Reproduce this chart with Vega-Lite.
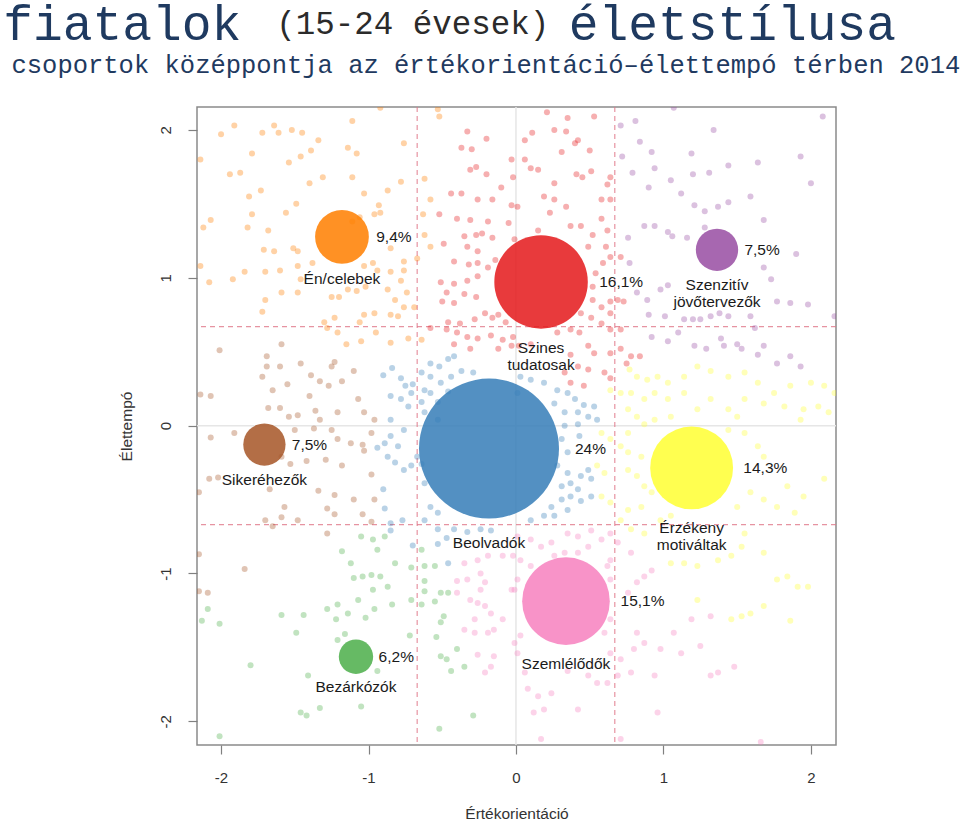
{
"$schema": "https://vega.github.io/schema/vega-lite/v6.json",
"background": "white",
"padding": {"left": 3, "top": 0, "right": 0, "bottom": 0},
"config": {"concat": {"spacing": 0}},
"title": {"text": "fiatalok\u00a0\u00a0\u00a0\u00a0\u00a0\u00a0\u00a0\u00a0\u00a0\u00a0\u00a0életstílusa", "subtitle": "\u200b\u00a0\u00a0\u00a0\u00a0\u00a0\u00a0\u00a0\u00a0\u00a0\u00a0\u00a0\u00a0\u00a0\u00a0(15-24 évesek)",
  "font": "Liberation Mono", "fontSize": 49.6, "fontWeight": "normal", "color": "#1f3a60",
  "subtitleFont": "Liberation Mono", "subtitleFontSize": 32.5, "subtitleColor": "#2b2b2b", "subtitlePadding": -43,
  "anchor": "start", "frame": "bounds", "dx": -7.5, "offset": 1.5},
"datasets": {
"grp": [
{"g":"en","x":-1.18,"y":1.277,"pct":9.4,"lbl":"9,4%","name":"Én/celebek"},
{"g":"szi","x":0.17,"y":0.972,"pct":16.1,"lbl":"16,1%","name":"Szines\ntudatosak"},
{"g":"sze","x":1.363,"y":1.189,"pct":7.5,"lbl":"7,5%","name":"Szenzitív\njövőtervezők"},
{"g":"sik","x":-1.706,"y":-0.128,"pct":7.5,"lbl":"7,5%","name":"Sikeréhezők"},
{"g":"beo","x":-0.183,"y":-0.155,"pct":24,"lbl":"24%","name":"Beolvadók"},
{"g":"erz","x":1.191,"y":-0.286,"pct":14.3,"lbl":"14,3%","name":"Érzékeny\nmotiváltak"},
{"g":"szm","x":0.339,"y":-1.187,"pct":15.1,"lbl":"15,1%","name":"Szemlélődők"},
{"g":"bez","x":-1.085,"y":-1.563,"pct":6.2,"lbl":"6,2%","name":"Bezárkózók"}
],
"pts": [
{"g":"en","x":-1.91,"y":2.03},{"g":"en","x":-2.00,"y":1.97},{"g":"en","x":-1.72,"y":1.98},{"g":"en","x":-1.64,"y":2.03},{"g":"en","x":-1.61,"y":1.98},{"g":"en","x":-1.52,"y":2.00},{"g":"en","x":-1.45,"y":1.98},{"g":"en","x":-1.34,"y":1.93},{"g":"en","x":-1.11,"y":2.06},{"g":"en","x":-1.14,"y":1.88},{"g":"en","x":-1.08,"y":1.84},{"g":"en","x":-1.39,"y":1.86},{"g":"en","x":-1.46,"y":1.82},{"g":"en","x":-1.54,"y":1.78},{"g":"en","x":-1.79,"y":1.84},{"g":"en","x":-2.14,"y":1.80},{"g":"en","x":-1.94,"y":1.70},{"g":"en","x":-1.87,"y":1.71},{"g":"en","x":-1.81,"y":1.55},{"g":"en","x":-1.73,"y":1.59},{"g":"en","x":-1.79,"y":1.43},{"g":"en","x":-1.68,"y":1.32},{"g":"en","x":-2.12,"y":1.34},{"g":"en","x":-2.07,"y":1.39},{"g":"en","x":-1.82,"y":1.34},{"g":"en","x":-1.56,"y":1.44},{"g":"en","x":-1.49,"y":1.50},{"g":"en","x":-1.40,"y":1.64},{"g":"en","x":-1.31,"y":1.68},{"g":"en","x":-1.11,"y":1.68},{"g":"en","x":-1.03,"y":1.57},{"g":"en","x":-0.87,"y":1.59},{"g":"en","x":-0.78,"y":1.65},{"g":"en","x":-0.76,"y":1.91},{"g":"en","x":-0.93,"y":1.49},{"g":"en","x":-0.92,"y":1.44},{"g":"en","x":-0.96,"y":1.43},{"g":"en","x":-1.06,"y":1.41},{"g":"en","x":-1.11,"y":1.38},{"g":"en","x":-1.64,"y":1.18},{"g":"en","x":-1.71,"y":1.19},{"g":"en","x":-1.51,"y":1.20},{"g":"en","x":-1.48,"y":1.18},{"g":"en","x":-1.38,"y":1.10},{"g":"en","x":-1.48,"y":1.08},{"g":"en","x":-1.60,"y":1.05},{"g":"en","x":-1.70,"y":1.04},{"g":"en","x":-1.84,"y":1.04},{"g":"en","x":-1.92,"y":0.99},{"g":"en","x":-2.08,"y":0.97},{"g":"en","x":-2.14,"y":1.08},{"g":"en","x":-1.03,"y":1.08},{"g":"en","x":-0.97,"y":1.10},{"g":"en","x":-0.94,"y":1.05},{"g":"en","x":-0.85,"y":1.04},{"g":"en","x":-0.78,"y":0.98},{"g":"en","x":-0.87,"y":0.92},{"g":"en","x":-0.76,"y":1.05},{"g":"en","x":-0.85,"y":1.20},{"g":"en","x":-0.76,"y":1.11},{"g":"en","x":-0.67,"y":1.13},{"g":"en","x":-1.48,"y":0.90},{"g":"en","x":-1.46,"y":0.99},{"g":"en","x":-1.70,"y":0.85},{"g":"en","x":-1.72,"y":0.77},{"g":"en","x":-1.59,"y":0.90},{"g":"en","x":-1.20,"y":0.87},{"g":"en","x":-1.25,"y":0.87},{"g":"en","x":-1.14,"y":0.92},{"g":"en","x":-1.08,"y":0.91},{"g":"en","x":-1.02,"y":0.94},{"g":"en","x":-0.82,"y":0.85},{"g":"en","x":-0.74,"y":0.90},{"g":"en","x":-0.69,"y":0.80},{"g":"en","x":-0.76,"y":0.80},{"g":"en","x":-0.85,"y":0.75},{"g":"en","x":-0.80,"y":0.74},{"g":"en","x":-0.96,"y":0.76},{"g":"en","x":-1.03,"y":0.75},{"g":"en","x":-1.06,"y":0.70},{"g":"en","x":-1.23,"y":0.73},{"g":"en","x":-1.30,"y":0.70},{"g":"en","x":-1.28,"y":0.66},{"g":"en","x":-1.21,"y":0.63},{"g":"en","x":-1.15,"y":0.55},{"g":"en","x":-1.05,"y":0.57},{"g":"en","x":-0.95,"y":0.63},{"g":"en","x":-0.85,"y":0.56},{"g":"en","x":-0.73,"y":0.59},{"g":"en","x":-0.64,"y":0.58},{"g":"en","x":-0.58,"y":1.21},{"g":"en","x":-0.62,"y":1.29},{"g":"en","x":-0.63,"y":1.43},{"g":"en","x":-0.58,"y":1.53},{"g":"en","x":-0.62,"y":1.67},{"g":"en","x":-0.53,"y":2.14},{"g":"en","x":-0.52,"y":2.09},{"g":"en","x":-0.92,"y":2.15},
{"g":"szi","x":-0.33,"y":1.99},{"g":"szi","x":-0.20,"y":1.94},{"g":"szi","x":-0.37,"y":1.88},{"g":"szi","x":-0.30,"y":1.87},{"g":"szi","x":-0.03,"y":1.80},{"g":"szi","x":-0.31,"y":1.73},{"g":"szi","x":-0.27,"y":1.75},{"g":"szi","x":-0.20,"y":1.70},{"g":"szi","x":-0.02,"y":1.68},{"g":"szi","x":-0.10,"y":1.61},{"g":"szi","x":-0.44,"y":1.57},{"g":"szi","x":-0.37,"y":1.57},{"g":"szi","x":-0.26,"y":1.53},{"g":"szi","x":-0.16,"y":1.53},{"g":"szi","x":-0.03,"y":1.49},{"g":"szi","x":-0.52,"y":1.43},{"g":"szi","x":-0.40,"y":1.40},{"g":"szi","x":-0.31,"y":1.39},{"g":"szi","x":-0.19,"y":1.38},{"g":"szi","x":-0.05,"y":1.37},{"g":"szi","x":-0.35,"y":1.28},{"g":"szi","x":-0.27,"y":1.29},{"g":"szi","x":-0.23,"y":1.30},{"g":"szi","x":-0.16,"y":1.27},{"g":"szi","x":-0.49,"y":1.23},{"g":"szi","x":-0.33,"y":1.21},{"g":"szi","x":-0.26,"y":1.18},{"g":"szi","x":-0.42,"y":1.11},{"g":"szi","x":-0.32,"y":1.09},{"g":"szi","x":-0.26,"y":1.10},{"g":"szi","x":-0.19,"y":1.07},{"g":"szi","x":-0.14,"y":1.12},{"g":"szi","x":-0.51,"y":0.97},{"g":"szi","x":-0.42,"y":0.96},{"g":"szi","x":-0.33,"y":0.98},{"g":"szi","x":-0.26,"y":1.01},{"g":"szi","x":-0.47,"y":0.90},{"g":"szi","x":-0.35,"y":0.89},{"g":"szi","x":-0.27,"y":0.87},{"g":"szi","x":-0.50,"y":0.84},{"g":"szi","x":-0.42,"y":0.83},{"g":"szi","x":-0.28,"y":0.72},{"g":"szi","x":-0.21,"y":0.76},{"g":"szi","x":-0.16,"y":0.73},{"g":"szi","x":-0.12,"y":0.75},{"g":"szi","x":-0.07,"y":0.70},{"g":"szi","x":-0.58,"y":0.66},{"g":"szi","x":-0.47,"y":0.65},{"g":"szi","x":-0.40,"y":0.63},{"g":"szi","x":-0.33,"y":0.60},{"g":"szi","x":-0.26,"y":0.59},{"g":"szi","x":-0.17,"y":0.61},{"g":"szi","x":-0.09,"y":0.58},{"g":"szi","x":-0.02,"y":0.60},{"g":"szi","x":-0.42,"y":0.55},{"g":"szi","x":-0.31,"y":0.52},{"g":"szi","x":-0.12,"y":0.52},{"g":"szi","x":-0.03,"y":0.54},{"g":"szi","x":-0.38,"y":0.69},{"g":"szi","x":-0.46,"y":0.70},
{"g":"szi","x":0.21,"y":2.12},{"g":"szi","x":0.35,"y":2.08},{"g":"szi","x":0.06,"y":1.93},{"g":"szi","x":0.11,"y":1.98},{"g":"szi","x":0.26,"y":2.00},{"g":"szi","x":0.34,"y":1.99},{"g":"szi","x":0.42,"y":1.93},{"g":"szi","x":0.40,"y":1.91},{"g":"szi","x":0.31,"y":1.85},{"g":"szi","x":0.50,"y":1.86},{"g":"szi","x":0.53,"y":2.09},{"g":"szi","x":0.06,"y":1.80},{"g":"szi","x":0.10,"y":1.74},{"g":"szi","x":0.15,"y":1.73},{"g":"szi","x":0.26,"y":1.64},{"g":"szi","x":0.41,"y":1.70},{"g":"szi","x":0.45,"y":1.68},{"g":"szi","x":0.51,"y":1.72},{"g":"szi","x":0.64,"y":1.68},{"g":"szi","x":0.62,"y":1.63},{"g":"szi","x":0.19,"y":1.55},{"g":"szi","x":0.26,"y":1.53},{"g":"szi","x":0.23,"y":1.44},{"g":"szi","x":0.34,"y":1.48},{"g":"szi","x":0.58,"y":1.53},{"g":"szi","x":0.64,"y":1.53},{"g":"szi","x":0.15,"y":1.32},{"g":"szi","x":0.37,"y":1.35},{"g":"szi","x":0.44,"y":1.35},{"g":"szi","x":0.58,"y":1.40},{"g":"szi","x":0.62,"y":1.32},{"g":"szi","x":0.52,"y":1.29},{"g":"szi","x":0.61,"y":1.21},{"g":"szi","x":0.49,"y":1.21},{"g":"szi","x":0.64,"y":1.14},{"g":"szi","x":0.59,"y":1.10},{"g":"szi","x":0.71,"y":1.14},{"g":"szi","x":0.54,"y":1.03},{"g":"szi","x":0.52,"y":0.94},{"g":"szi","x":0.52,"y":0.85},{"g":"szi","x":0.58,"y":0.80},{"g":"szi","x":0.64,"y":0.84},{"g":"szi","x":0.69,"y":0.85},{"g":"szi","x":0.73,"y":0.84},{"g":"szi","x":0.44,"y":0.76},{"g":"szi","x":0.51,"y":0.73},{"g":"szi","x":0.58,"y":0.69},{"g":"szi","x":0.64,"y":0.65},{"g":"szi","x":0.71,"y":0.65},{"g":"szi","x":0.28,"y":0.63},{"g":"szi","x":0.37,"y":0.65},{"g":"szi","x":0.43,"y":0.63},{"g":"szi","x":0.49,"y":0.54},{"g":"szi","x":0.53,"y":0.49},{"g":"szi","x":0.64,"y":0.49},{"g":"szi","x":0.37,"y":0.48},{"g":"szi","x":0.42,"y":0.40},{"g":"szi","x":0.33,"y":0.36},{"g":"szi","x":0.49,"y":0.38},{"g":"szi","x":0.60,"y":0.36},{"g":"szi","x":0.64,"y":0.32},{"g":"szi","x":0.37,"y":0.29},{"g":"szi","x":0.46,"y":0.27},{"g":"szi","x":0.02,"y":0.54},{"g":"szi","x":0.10,"y":0.55},{"g":"szi","x":0.71,"y":0.52},{"g":"szi","x":0.78,"y":0.47},{"g":"szi","x":0.84,"y":0.47},{"g":"szi","x":0.75,"y":0.42},{"g":"szi","x":0.64,"y":0.76},{"g":"szi","x":0.01,"y":1.48},{"g":"szi","x":-0.01,"y":1.26},
{"g":"sze","x":0.81,"y":2.06},{"g":"sze","x":0.71,"y":2.03},{"g":"sze","x":1.34,"y":2.00},{"g":"sze","x":0.84,"y":1.92},{"g":"sze","x":0.92,"y":1.85},{"g":"sze","x":0.72,"y":1.82},{"g":"sze","x":1.19,"y":1.84},{"g":"sze","x":1.31,"y":1.71},{"g":"sze","x":1.20,"y":1.70},{"g":"sze","x":1.05,"y":1.66},{"g":"sze","x":0.90,"y":1.61},{"g":"sze","x":0.94,"y":1.74},{"g":"sze","x":0.79,"y":1.71},{"g":"sze","x":1.44,"y":1.76},{"g":"sze","x":1.64,"y":1.78},{"g":"sze","x":1.93,"y":1.82},{"g":"sze","x":2.08,"y":2.09},{"g":"sze","x":2.00,"y":1.64},{"g":"sze","x":1.07,"y":2.15},{"g":"sze","x":1.59,"y":1.55},{"g":"sze","x":1.44,"y":1.51},{"g":"sze","x":1.37,"y":1.48},{"g":"sze","x":1.28,"y":1.45},{"g":"sze","x":1.21,"y":1.49},{"g":"sze","x":1.12,"y":1.57},{"g":"sze","x":0.87,"y":1.35},{"g":"sze","x":0.94,"y":1.35},{"g":"sze","x":1.03,"y":1.31},{"g":"sze","x":1.06,"y":1.28},{"g":"sze","x":1.16,"y":1.27},{"g":"sze","x":1.28,"y":1.34},{"g":"sze","x":0.76,"y":1.27},{"g":"sze","x":1.68,"y":1.39},{"g":"sze","x":1.90,"y":1.16},{"g":"sze","x":1.68,"y":1.07},{"g":"sze","x":1.73,"y":0.99},{"g":"sze","x":1.03,"y":0.95},{"g":"sze","x":0.98,"y":0.92},{"g":"sze","x":0.89,"y":0.85},{"g":"sze","x":0.82,"y":0.90},{"g":"sze","x":0.77,"y":1.10},{"g":"sze","x":0.90,"y":0.75},{"g":"sze","x":1.01,"y":0.74},{"g":"sze","x":1.14,"y":0.72},{"g":"sze","x":1.20,"y":0.72},{"g":"sze","x":1.25,"y":0.72},{"g":"sze","x":1.32,"y":0.74},{"g":"sze","x":1.38,"y":0.76},{"g":"sze","x":1.44,"y":0.74},{"g":"sze","x":1.59,"y":0.74},{"g":"sze","x":1.77,"y":0.84},{"g":"sze","x":1.86,"y":0.83},{"g":"sze","x":1.98,"y":0.82},{"g":"sze","x":2.16,"y":0.74},{"g":"sze","x":1.62,"y":0.66},{"g":"sze","x":1.10,"y":0.63},{"g":"sze","x":0.92,"y":0.60},{"g":"sze","x":1.03,"y":0.57},{"g":"sze","x":1.39,"y":0.59},{"g":"sze","x":1.53,"y":0.52},{"g":"sze","x":1.64,"y":0.48},{"g":"sze","x":1.68,"y":0.54},{"g":"sze","x":1.77,"y":0.42},{"g":"sze","x":1.86,"y":0.47},{"g":"sze","x":1.93,"y":0.40},{"g":"sze","x":1.21,"y":0.54},{"g":"sze","x":1.29,"y":0.52},{"g":"sze","x":1.41,"y":0.54},{"g":"sze","x":1.50,"y":0.55},
{"g":"sik","x":-2.01,"y":0.51},{"g":"sik","x":-1.69,"y":0.47},{"g":"sik","x":-1.59,"y":0.55},{"g":"sik","x":-1.69,"y":0.40},{"g":"sik","x":-1.72,"y":0.33},{"g":"sik","x":-1.60,"y":0.40},{"g":"sik","x":-1.55,"y":0.28},{"g":"sik","x":-1.65,"y":0.24},{"g":"sik","x":-1.46,"y":0.42},{"g":"sik","x":-1.33,"y":0.30},{"g":"sik","x":-1.25,"y":0.40},{"g":"sik","x":-1.23,"y":0.43},{"g":"sik","x":-1.39,"y":0.34},{"g":"sik","x":-1.27,"y":0.27},{"g":"sik","x":-1.18,"y":0.30},{"g":"sik","x":-1.10,"y":0.37},{"g":"sik","x":-2.14,"y":0.21},{"g":"sik","x":-2.07,"y":0.20},{"g":"sik","x":-1.68,"y":0.12},{"g":"sik","x":-1.60,"y":0.12},{"g":"sik","x":-1.54,"y":0.06},{"g":"sik","x":-1.48,"y":0.07},{"g":"sik","x":-1.36,"y":0.10},{"g":"sik","x":-1.40,"y":0.20},{"g":"sik","x":-1.33,"y":0.04},{"g":"sik","x":-1.21,"y":0.09},{"g":"sik","x":-1.07,"y":0.18},{"g":"sik","x":-1.03,"y":0.09},{"g":"sik","x":-0.96,"y":0.04},{"g":"sik","x":-2.07,"y":-0.08},{"g":"sik","x":-1.91,"y":-0.05},{"g":"sik","x":-1.50,"y":-0.03},{"g":"sik","x":-1.37,"y":-0.02},{"g":"sik","x":-1.25,"y":-0.03},{"g":"sik","x":-1.21,"y":-0.09},{"g":"sik","x":-1.12,"y":-0.12},{"g":"sik","x":-1.04,"y":-0.13},{"g":"sik","x":-0.98,"y":-0.05},{"g":"sik","x":-1.59,"y":-0.21},{"g":"sik","x":-1.53,"y":-0.26},{"g":"sik","x":-1.42,"y":-0.24},{"g":"sik","x":-1.29,"y":-0.23},{"g":"sik","x":-1.18,"y":-0.27},{"g":"sik","x":-1.03,"y":-0.17},{"g":"sik","x":-0.98,"y":-0.33},{"g":"sik","x":-1.67,"y":-0.43},{"g":"sik","x":-1.34,"y":-0.44},{"g":"sik","x":-1.23,"y":-0.47},{"g":"sik","x":-1.28,"y":-0.56},{"g":"sik","x":-1.23,"y":-0.60},{"g":"sik","x":-1.57,"y":-0.55},{"g":"sik","x":-1.48,"y":-0.64},{"g":"sik","x":-1.65,"y":-0.68},{"g":"sik","x":-1.70,"y":-0.64},{"g":"sik","x":-1.59,"y":-0.62},{"g":"sik","x":-1.10,"y":-0.50},{"g":"sik","x":-0.96,"y":-0.50},{"g":"sik","x":-1.04,"y":-0.60},{"g":"sik","x":-0.98,"y":-0.65},{"g":"sik","x":-1.28,"y":-0.73},{"g":"sik","x":-2.15,"y":-0.45},{"g":"sik","x":-2.08,"y":-0.36},{"g":"sik","x":-2.15,"y":-0.87},{"g":"sik","x":-2.15,"y":-1.12},{"g":"sik","x":-2.09,"y":-1.13},{"g":"sik","x":-1.84,"y":-0.97},{"g":"sik","x":-2.02,"y":-0.35},
{"g":"bez","x":-1.18,"y":-0.85},{"g":"bez","x":-1.12,"y":-0.93},{"g":"bez","x":-1.05,"y":-0.75},{"g":"bez","x":-0.97,"y":-0.77},{"g":"bez","x":-0.94,"y":-0.84},{"g":"bez","x":-0.89,"y":-0.75},{"g":"bez","x":-0.82,"y":-0.93},{"g":"bez","x":-0.71,"y":-0.96},{"g":"bez","x":-0.64,"y":-0.84},{"g":"bez","x":-0.62,"y":-0.95},{"g":"bez","x":-0.55,"y":-0.95},{"g":"bez","x":-1.10,"y":-1.03},{"g":"bez","x":-1.04,"y":-1.02},{"g":"bez","x":-0.98,"y":-1.01},{"g":"bez","x":-0.92,"y":-1.02},{"g":"bez","x":-0.87,"y":-1.09},{"g":"bez","x":-0.97,"y":-1.11},{"g":"bez","x":-1.07,"y":-1.18},{"g":"bez","x":-1.21,"y":-1.21},{"g":"bez","x":-1.28,"y":-1.24},{"g":"bez","x":-1.22,"y":-1.31},{"g":"bez","x":-1.14,"y":-1.27},{"g":"bez","x":-1.02,"y":-1.30},{"g":"bez","x":-0.96,"y":-1.24},{"g":"bez","x":-0.84,"y":-1.21},{"g":"bez","x":-0.71,"y":-1.18},{"g":"bez","x":-0.62,"y":-1.05},{"g":"bez","x":-0.62,"y":-1.12},{"g":"bez","x":-0.64,"y":-1.21},{"g":"bez","x":-0.51,"y":-1.13},{"g":"bez","x":-0.46,"y":-1.13},{"g":"bez","x":-0.55,"y":-1.19},{"g":"bez","x":-0.49,"y":-1.29},{"g":"bez","x":-0.51,"y":-1.33},{"g":"bez","x":-0.54,"y":-1.43},{"g":"bez","x":-0.72,"y":-1.42},{"g":"bez","x":-1.21,"y":-1.45},{"g":"bez","x":-1.16,"y":-1.41},{"g":"bez","x":-1.44,"y":-1.28},{"g":"bez","x":-1.59,"y":-1.28},{"g":"bez","x":-1.49,"y":-1.40},{"g":"bez","x":-1.80,"y":-1.62},{"g":"bez","x":-1.41,"y":-1.69},{"g":"bez","x":-1.46,"y":-1.94},{"g":"bez","x":-1.42,"y":-1.96},{"g":"bez","x":-1.33,"y":-1.91},{"g":"bez","x":-1.05,"y":-1.90},{"g":"bez","x":-2.01,"y":-2.10},{"g":"bez","x":-2.09,"y":-1.24},{"g":"bez","x":-2.13,"y":-1.32},{"g":"bez","x":-2.01,"y":-1.34},{"g":"bez","x":-0.94,"y":-1.66},{"g":"bez","x":-0.51,"y":-1.56},{"g":"bez","x":-0.47,"y":-1.58},{"g":"bez","x":-0.44,"y":-1.66},{"g":"bez","x":-0.40,"y":-1.51},{"g":"bez","x":-0.35,"y":-1.63},{"g":"bez","x":-0.29,"y":-1.96},{"g":"bez","x":-0.52,"y":-2.05},
{"g":"beo","x":-0.90,"y":0.34},{"g":"beo","x":-0.84,"y":0.39},{"g":"beo","x":-0.78,"y":0.32},{"g":"beo","x":-0.75,"y":0.27},{"g":"beo","x":-0.70,"y":0.28},{"g":"beo","x":-0.64,"y":0.36},{"g":"beo","x":-0.58,"y":0.42},{"g":"beo","x":-0.52,"y":0.40},{"g":"beo","x":-0.46,"y":0.45},{"g":"beo","x":-0.42,"y":0.47},{"g":"beo","x":-0.58,"y":0.33},{"g":"beo","x":-0.51,"y":0.29},{"g":"beo","x":-0.44,"y":0.33},{"g":"beo","x":-0.37,"y":0.37},{"g":"beo","x":-0.29,"y":0.36},{"g":"beo","x":-0.85,"y":0.20},{"g":"beo","x":-0.78,"y":0.18},{"g":"beo","x":-0.71,"y":0.22},{"g":"beo","x":-0.62,"y":0.24},{"g":"beo","x":-0.58,"y":0.22},{"g":"beo","x":-0.53,"y":0.16},{"g":"beo","x":-0.46,"y":0.23},{"g":"beo","x":-0.64,"y":0.16},{"g":"beo","x":-0.73,"y":0.13},{"g":"beo","x":-0.62,"y":0.09},{"g":"beo","x":-0.53,"y":0.04},{"g":"beo","x":-0.85,"y":0.04},{"g":"beo","x":0.03,"y":0.33},{"g":"beo","x":0.10,"y":0.31},{"g":"beo","x":0.19,"y":0.29},{"g":"beo","x":0.28,"y":0.24},{"g":"beo","x":0.35,"y":0.22},{"g":"beo","x":0.40,"y":0.18},{"g":"beo","x":0.46,"y":0.14},{"g":"beo","x":0.53,"y":0.13},{"g":"beo","x":0.26,"y":0.15},{"g":"beo","x":0.33,"y":0.09},{"g":"beo","x":0.42,"y":0.09},{"g":"beo","x":0.49,"y":0.06},{"g":"beo","x":0.55,"y":0.04},{"g":"beo","x":0.01,"y":0.22},{"g":"beo","x":-0.94,"y":-0.15},{"g":"beo","x":-0.89,"y":-0.12},{"g":"beo","x":-0.85,"y":-0.07},{"g":"beo","x":-0.80,"y":-0.14},{"g":"beo","x":-0.76,"y":-0.03},{"g":"beo","x":-0.87,"y":-0.21},{"g":"beo","x":-0.82,"y":-0.25},{"g":"beo","x":-0.76,"y":-0.30},{"g":"beo","x":-0.71,"y":-0.27},{"g":"beo","x":-0.64,"y":-0.26},{"g":"beo","x":-0.62,"y":-0.39},{"g":"beo","x":-0.67,"y":-0.21},{"g":"beo","x":-0.90,"y":-0.43},{"g":"beo","x":-0.89,"y":-0.56},{"g":"beo","x":-0.85,"y":-0.66},{"g":"beo","x":-0.77,"y":-0.64},{"g":"beo","x":-0.85,"y":-0.71},{"g":"beo","x":-0.70,"y":-0.81},{"g":"beo","x":-0.62,"y":-0.64},{"g":"beo","x":-0.53,"y":-0.70},{"g":"beo","x":-0.47,"y":-0.76},{"g":"beo","x":-0.46,"y":-0.93},{"g":"beo","x":-0.58,"y":-0.55},{"g":"beo","x":-0.53,"y":-0.59},{"g":"beo","x":-0.53,"y":-0.80},{"g":"beo","x":-0.42,"y":-0.70},{"g":"beo","x":-0.33,"y":-0.72},{"g":"beo","x":-0.24,"y":-0.70},{"g":"beo","x":-0.17,"y":-0.71},{"g":"beo","x":0.33,"y":0.00},{"g":"beo","x":0.42,"y":0.01},{"g":"beo","x":0.31,"y":-0.09},{"g":"beo","x":0.35,"y":-0.18},{"g":"beo","x":0.28,"y":-0.27},{"g":"beo","x":0.35,"y":-0.32},{"g":"beo","x":0.44,"y":-0.34},{"g":"beo","x":0.49,"y":-0.30},{"g":"beo","x":0.31,"y":-0.41},{"g":"beo","x":0.37,"y":-0.39},{"g":"beo","x":0.42,"y":-0.43},{"g":"beo","x":0.51,"y":-0.36},{"g":"beo","x":0.31,"y":-0.50},{"g":"beo","x":0.24,"y":-0.55},{"g":"beo","x":0.19,"y":-0.61},{"g":"beo","x":0.10,"y":-0.64},{"g":"beo","x":0.26,"y":-0.61},{"g":"beo","x":0.35,"y":-0.57},{"g":"beo","x":0.44,"y":-0.51},{"g":"beo","x":0.51,"y":-0.48},{"g":"beo","x":0.37,"y":-0.48},{"g":"beo","x":0.43,"y":-0.07},
{"g":"erz","x":0.77,"y":0.38},{"g":"erz","x":0.82,"y":0.33},{"g":"erz","x":0.89,"y":0.31},{"g":"erz","x":0.96,"y":0.33},{"g":"erz","x":1.03,"y":0.29},{"g":"erz","x":1.14,"y":0.33},{"g":"erz","x":1.23,"y":0.40},{"g":"erz","x":1.32,"y":0.37},{"g":"erz","x":1.44,"y":0.33},{"g":"erz","x":1.55,"y":0.36},{"g":"erz","x":1.64,"y":0.29},{"g":"erz","x":1.75,"y":0.22},{"g":"erz","x":1.86,"y":0.27},{"g":"erz","x":2.00,"y":0.29},{"g":"erz","x":2.09,"y":0.27},{"g":"erz","x":2.16,"y":0.22},{"g":"erz","x":0.71,"y":0.22},{"g":"erz","x":0.64,"y":0.24},{"g":"erz","x":0.78,"y":0.22},{"g":"erz","x":0.87,"y":0.18},{"g":"erz","x":0.94,"y":0.22},{"g":"erz","x":1.03,"y":0.18},{"g":"erz","x":1.14,"y":0.22},{"g":"erz","x":1.23,"y":0.11},{"g":"erz","x":1.32,"y":0.18},{"g":"erz","x":1.44,"y":0.11},{"g":"erz","x":1.55,"y":0.18},{"g":"erz","x":1.68,"y":0.15},{"g":"erz","x":1.82,"y":0.13},{"g":"erz","x":1.95,"y":0.11},{"g":"erz","x":2.05,"y":0.13},{"g":"erz","x":0.76,"y":0.11},{"g":"erz","x":0.82,"y":0.06},{"g":"erz","x":0.94,"y":0.04},{"g":"erz","x":1.05,"y":0.06},{"g":"erz","x":1.50,"y":0.06},{"g":"erz","x":1.93,"y":0.04},{"g":"erz","x":2.12,"y":0.09},{"g":"erz","x":0.58,"y":-0.05},{"g":"erz","x":0.64,"y":-0.09},{"g":"erz","x":0.76,"y":-0.05},{"g":"erz","x":0.87,"y":0.01},{"g":"erz","x":0.71,"y":-0.14},{"g":"erz","x":0.76,"y":-0.18},{"g":"erz","x":0.85,"y":-0.21},{"g":"erz","x":0.55,"y":-0.27},{"g":"erz","x":0.60,"y":-0.32},{"g":"erz","x":0.76,"y":-0.30},{"g":"erz","x":0.82,"y":-0.34},{"g":"erz","x":0.87,"y":-0.41},{"g":"erz","x":0.92,"y":-0.45},{"g":"erz","x":0.58,"y":-0.48},{"g":"erz","x":0.64,"y":-0.52},{"g":"erz","x":0.76,"y":-0.57},{"g":"erz","x":0.85,"y":-0.55},{"g":"erz","x":0.71,"y":-0.64},{"g":"erz","x":0.78,"y":-0.70},{"g":"erz","x":0.87,"y":-0.73},{"g":"erz","x":0.98,"y":-0.64},{"g":"erz","x":1.05,"y":-0.61},{"g":"erz","x":1.44,"y":-0.03},{"g":"erz","x":1.55,"y":-0.05},{"g":"erz","x":1.64,"y":-0.14},{"g":"erz","x":1.68,"y":-0.21},{"g":"erz","x":1.59,"y":-0.45},{"g":"erz","x":1.68,"y":-0.50},{"g":"erz","x":1.77,"y":-0.55},{"g":"erz","x":1.89,"y":-0.59},{"g":"erz","x":1.95,"y":-0.48},{"g":"erz","x":2.09,"y":-0.36},{"g":"erz","x":1.84,"y":-0.41},{"g":"erz","x":1.50,"y":-0.55},{"g":"erz","x":1.55,"y":-0.73},{"g":"erz","x":1.53,"y":-0.82},{"g":"erz","x":1.68,"y":-0.86},{"g":"erz","x":1.37,"y":-0.91},{"g":"erz","x":1.46,"y":-0.88},{"g":"erz","x":1.23,"y":-0.95},{"g":"erz","x":1.14,"y":-0.93},{"g":"erz","x":1.05,"y":-0.93},{"g":"erz","x":1.77,"y":-1.04},{"g":"erz","x":1.84,"y":-1.02},{"g":"erz","x":1.91,"y":-1.09},{"g":"erz","x":1.98,"y":-1.09},{"g":"erz","x":1.68,"y":-1.22},{"g":"erz","x":1.59,"y":-1.27},{"g":"erz","x":1.53,"y":-1.29},{"g":"erz","x":1.46,"y":-1.31},{"g":"erz","x":1.86,"y":-1.32},{"g":"erz","x":1.23,"y":-1.18},
{"g":"szm","x":-0.35,"y":-0.93},{"g":"szm","x":-0.26,"y":-0.91},{"g":"szm","x":-0.19,"y":-0.88},{"g":"szm","x":-0.09,"y":-0.88},{"g":"szm","x":-0.02,"y":-0.88},{"g":"szm","x":-0.40,"y":-1.05},{"g":"szm","x":-0.33,"y":-1.04},{"g":"szm","x":-0.24,"y":-1.00},{"g":"szm","x":-0.21,"y":-1.06},{"g":"szm","x":-0.24,"y":-1.11},{"g":"szm","x":-0.31,"y":-1.18},{"g":"szm","x":-0.26,"y":-1.20},{"g":"szm","x":-0.21,"y":-1.22},{"g":"szm","x":-0.17,"y":-1.27},{"g":"szm","x":-0.28,"y":-1.31},{"g":"szm","x":-0.35,"y":-1.38},{"g":"szm","x":-0.28,"y":-1.40},{"g":"szm","x":-0.19,"y":-1.40},{"g":"szm","x":-0.09,"y":-1.31},{"g":"szm","x":-0.15,"y":-1.38},{"g":"szm","x":-0.03,"y":-1.11},{"g":"szm","x":-0.40,"y":-1.13},{"g":"szm","x":-0.01,"y":-1.47},{"g":"szm","x":-0.15,"y":-1.56},{"g":"szm","x":-0.17,"y":-1.63},{"g":"szm","x":-0.21,"y":-1.67},{"g":"szm","x":-0.26,"y":-1.55},{"g":"szm","x":0.01,"y":-0.75},{"g":"szm","x":0.10,"y":-0.77},{"g":"szm","x":0.17,"y":-0.82},{"g":"szm","x":0.24,"y":-0.79},{"g":"szm","x":0.35,"y":-0.73},{"g":"szm","x":0.42,"y":-0.75},{"g":"szm","x":0.51,"y":-0.71},{"g":"szm","x":0.58,"y":-0.77},{"g":"szm","x":0.64,"y":-0.73},{"g":"szm","x":0.69,"y":-0.79},{"g":"szm","x":0.49,"y":-0.82},{"g":"szm","x":0.42,"y":-0.86},{"g":"szm","x":0.33,"y":-0.86},{"g":"szm","x":0.26,"y":-0.88},{"g":"szm","x":0.03,"y":-0.91},{"g":"szm","x":0.10,"y":-0.95},{"g":"szm","x":0.01,"y":-1.04},{"g":"szm","x":-0.01,"y":-1.11},{"g":"szm","x":0.64,"y":-0.91},{"g":"szm","x":0.62,"y":-0.95},{"g":"szm","x":0.64,"y":-1.04},{"g":"szm","x":0.78,"y":-0.86},{"g":"szm","x":0.82,"y":-1.06},{"g":"szm","x":0.87,"y":-1.02},{"g":"szm","x":0.92,"y":-0.98},{"g":"szm","x":0.76,"y":-1.13},{"g":"szm","x":0.64,"y":-1.31},{"g":"szm","x":0.60,"y":-1.40},{"g":"szm","x":0.64,"y":-1.54},{"g":"szm","x":0.71,"y":-1.58},{"g":"szm","x":0.82,"y":-1.40},{"g":"szm","x":0.80,"y":-1.51},{"g":"szm","x":0.87,"y":-1.47},{"g":"szm","x":0.98,"y":-1.51},{"g":"szm","x":1.07,"y":-1.40},{"g":"szm","x":1.12,"y":-1.54},{"g":"szm","x":1.19,"y":-1.31},{"g":"szm","x":1.25,"y":-1.49},{"g":"szm","x":1.32,"y":-1.29},{"g":"szm","x":1.37,"y":-1.67},{"g":"szm","x":1.32,"y":-1.69},{"g":"szm","x":1.48,"y":-1.63},{"g":"szm","x":0.94,"y":-1.69},{"g":"szm","x":0.96,"y":-1.94},{"g":"szm","x":0.78,"y":-1.67},{"g":"szm","x":0.62,"y":-1.74},{"g":"szm","x":0.69,"y":-1.69},{"g":"szm","x":0.06,"y":-1.67},{"g":"szm","x":0.08,"y":-1.78},{"g":"szm","x":0.15,"y":-1.83},{"g":"szm","x":0.19,"y":-1.92},{"g":"szm","x":0.12,"y":-1.94},{"g":"szm","x":0.24,"y":-1.81},{"g":"szm","x":0.42,"y":-1.92},{"g":"szm","x":0.35,"y":-1.66},{"g":"szm","x":0.49,"y":-1.69},{"g":"szm","x":0.55,"y":-1.74},{"g":"szm","x":0.17,"y":-2.12},{"g":"szm","x":0.71,"y":-2.12},{"g":"szm","x":1.66,"y":-2.14},{"g":"szm","x":0.01,"y":-1.54},{"g":"szm","x":0.03,"y":-1.42}
],
"thr": [{"t": -0.67}, {"t": 0.67}],
"zero": [{"t": 0}]
},
"vconcat": [
{
"width": 639,
"height": 638,
"view": {"stroke": "#8a8a8a", "strokeWidth": 1.5},
"title": {"text": "csoportok középpontja az értékorientáció–élettempó térben 2014", "font": "Liberation Mono", "fontSize": 25.5, "fontWeight": "normal", "color": "#1f3a60", "anchor": "start", "frame": "group", "dx": -185.5, "offset": 27.5},
"layer": [
{"data": {"name": "zero"}, "mark": {"type": "rule", "color": "#e6e6e6", "strokeWidth": 1.5},
 "encoding": {"x": {"field": "t", "type": "quantitative", "scale": {"domain": [-2.163, 2.17], "nice": false, "zero": false},
   "axis": {"values": [-2, -1, 0, 1, 2], "labelExpr": "'' + datum.value", "grid": false, "domain": false, "tickSize": 9, "tickColor": "#808080", "tickWidth": 1.2, "labelFont": "Liberation Sans", "labelFontSize": 15, "labelColor": "#333333", "labelPadding": 16, "title": "Értékorientáció", "titleFont": "Liberation Sans", "titleFontSize": 15.5, "titleFontWeight": "normal", "titleColor": "#333333", "titlePadding": 21}}}},
{"data": {"name": "zero"}, "mark": {"type": "rule", "color": "#e6e6e6", "strokeWidth": 1.5},
 "encoding": {"y": {"field": "t", "type": "quantitative", "scale": {"domain": [-2.16, 2.155], "nice": false, "zero": false},
   "axis": {"values": [-2, -1, 0, 1, 2], "labelExpr": "'' + datum.value", "grid": false, "domain": false, "tickSize": 9, "tickColor": "#808080", "tickWidth": 1.2, "labelFont": "Liberation Sans", "labelFontSize": 15, "labelColor": "#333333", "labelAngle": -90, "labelAlign": "center", "labelBaseline": "bottom", "labelPadding": 15, "title": "Élettempó", "titleFont": "Liberation Sans", "titleFontSize": 15.5, "titleFontWeight": "normal", "titleColor": "#333333", "titlePadding": 24}}}},
{"data": {"name": "thr"}, "mark": {"type": "rule", "color": "#e0788a", "opacity": 0.8, "strokeWidth": 1.2, "strokeDash": [5, 4]},
 "encoding": {"x": {"field": "t", "type": "quantitative"}}},
{"data": {"name": "thr"}, "mark": {"type": "rule", "color": "#e0788a", "opacity": 0.8, "strokeWidth": 1.2, "strokeDash": [5, 4]},
 "encoding": {"y": {"field": "t", "type": "quantitative"}}},
{"data": {"name": "pts"}, "mark": {"type": "circle", "size": 36, "opacity": 0.35, "clip": true},
 "encoding": {
   "x": {"field": "x", "type": "quantitative"},
   "y": {"field": "y", "type": "quantitative"},
   "color": {"field": "g", "type": "nominal", "legend": null,
     "scale": {"domain": ["en","szi","sze","sik","beo","erz","szm","bez"], "range": ["#FF7F00","#E41A1C","#984EA3","#A65628","#377EB8","#FFFF33","#F781BF","#4DAF4A"]}}}},
{"data": {"name": "grp"}, "mark": {"type": "circle", "opacity": 0.86},
 "encoding": {
   "x": {"field": "x", "type": "quantitative"},
   "y": {"field": "y", "type": "quantitative"},
   "color": {"field": "g", "type": "nominal", "legend": null},
   "size": {"field": "pct", "type": "quantitative", "legend": null, "scale": {"type": "pow", "exponent": 2, "domain": [2, 24], "range": [0, 19600]}}}},
{"data": {"name": "grp"}, "mark": {"type": "text", "align": "left", "baseline": "middle", "font": "Liberation Sans", "fontSize": 15.5, "color": "#1a1a1a",
   "dx": {"expr": "84*sqrt((datum.pct*datum.pct-4)/572)+2"}},
 "encoding": {
   "x": {"field": "x", "type": "quantitative"},
   "y": {"field": "y", "type": "quantitative"},
   "text": {"field": "lbl", "type": "nominal"}}},
{"data": {"name": "grp"}, "mark": {"type": "text", "align": "center", "baseline": "top", "font": "Liberation Sans", "fontSize": 15.5, "color": "#1a1a1a", "lineBreak": "\n", "lineHeight": 17,
   "dy": {"expr": "84*sqrt((datum.pct*datum.pct-4)/572)+3"}},
 "encoding": {
   "x": {"field": "x", "type": "quantitative"},
   "y": {"field": "y", "type": "quantitative"},
   "text": {"field": "name", "type": "nominal"}}}
]
}
]
}
